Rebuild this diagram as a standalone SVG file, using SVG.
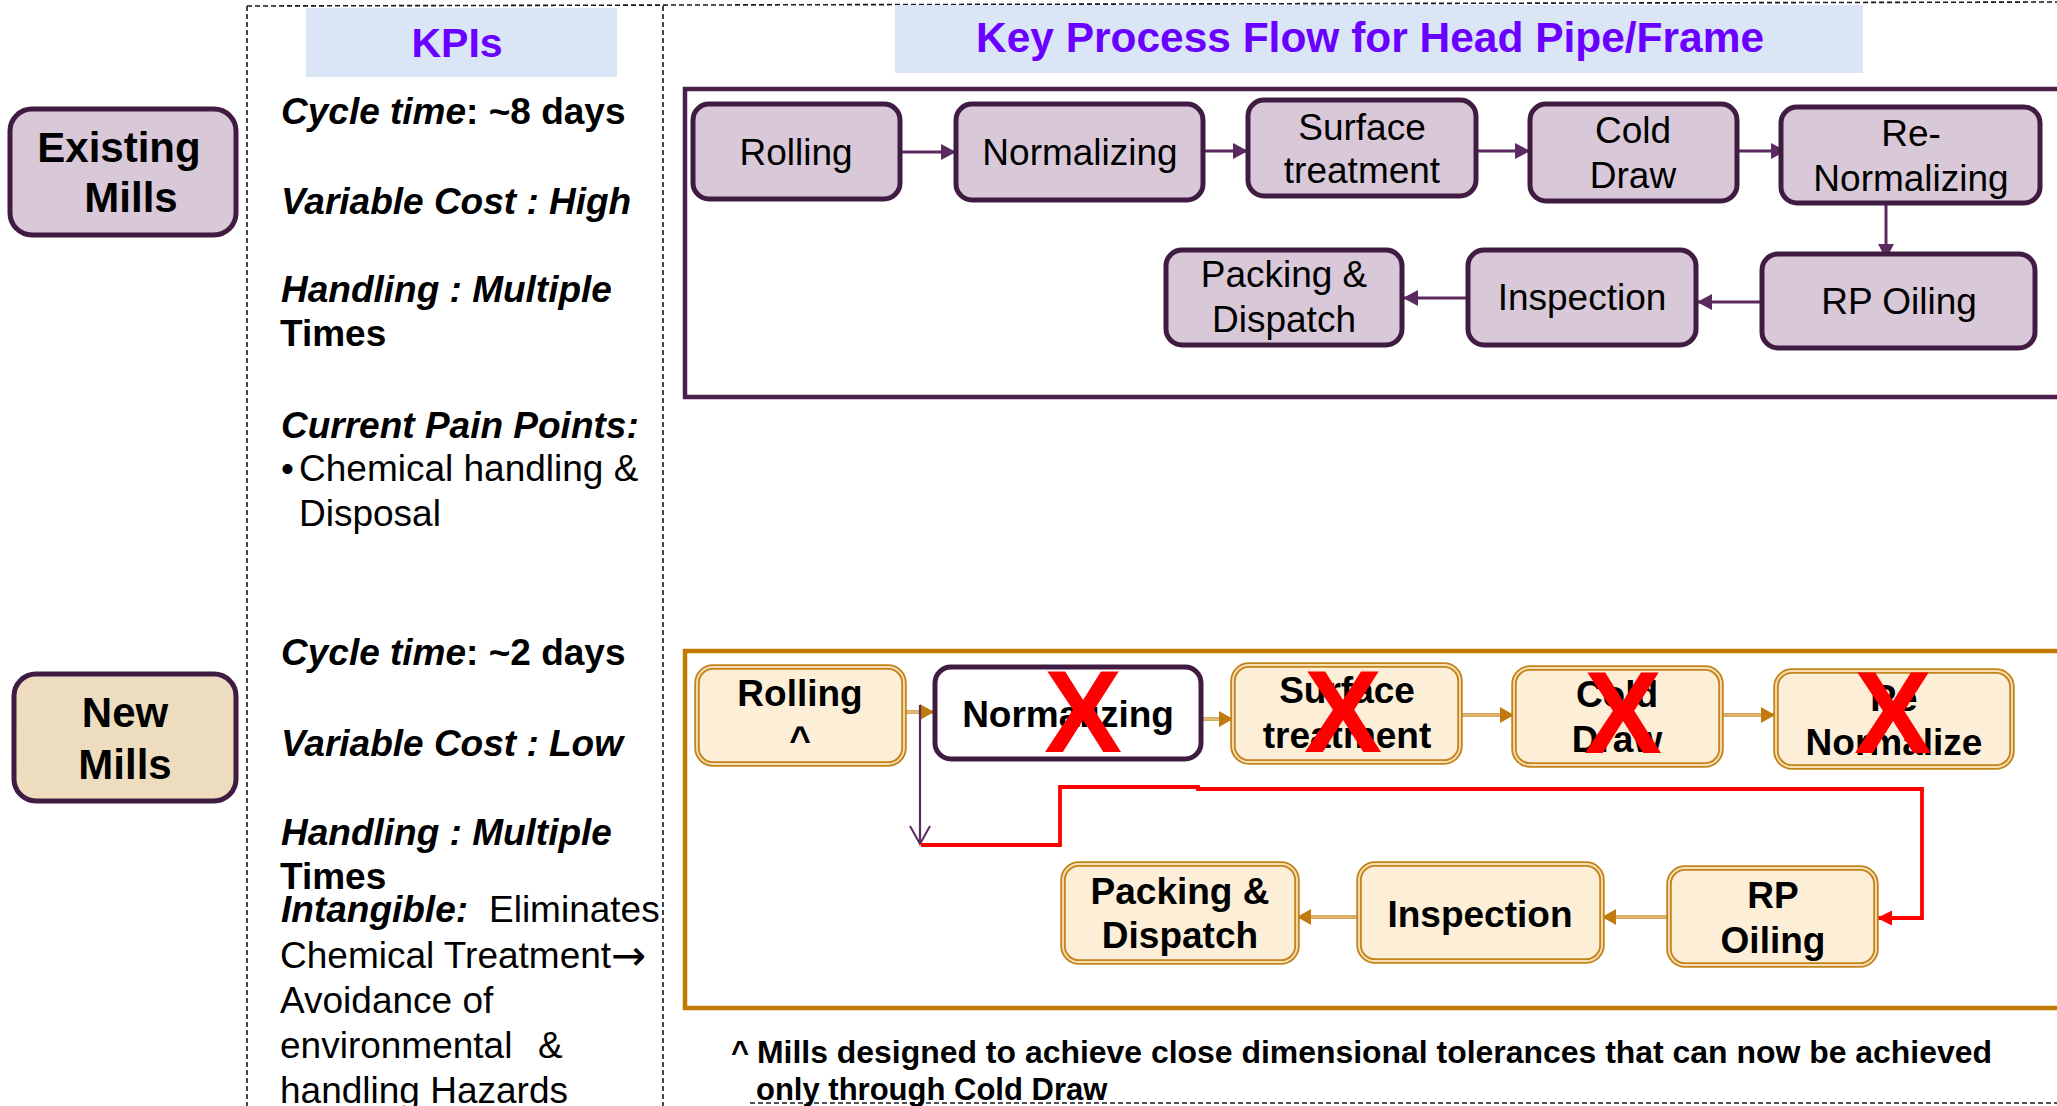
<svg xmlns="http://www.w3.org/2000/svg" width="2057" height="1106" viewBox="0 0 2057 1106">
  <defs>
    <style>
      text { font-family: "Liberation Sans", Arial, sans-serif; fill: #000; }
      .hdr { fill: #dae5f6; }
      .hdrtxt { font-weight: bold; fill: #6a00ff; text-anchor: middle; }
      .dash { stroke: #1a1a1a; stroke-width: 1.6; stroke-dasharray: 5 3; fill: none; }
      .kpi { font-size: 37px; }
      .bi { font-weight: bold; font-style: italic; }
      .b { font-weight: bold; }
      .arrowglyph { font-family: "DejaVu Sans", sans-serif; font-size: 42px; }
      .mill { font-size: 42px; font-weight: bold; text-anchor: middle; }
      .exbox { fill: #d8c8d8; stroke: #401c42; stroke-width: 5; }
      .nwbox { fill: #fdeed8; stroke: #c4841c; stroke-width: 5.5; }
      .nwgap { fill: none; stroke: #f8e0b6; stroke-width: 1.8; }
      .extxt { font-size: 37px; text-anchor: middle; }
      .nwtxt { font-size: 37px; font-weight: bold; text-anchor: middle; }
      .cross { font-size: 117px; font-weight: bold; fill: #ff0000; text-anchor: middle; }
      .pline { stroke: #5b2a5e; stroke-width: 3; fill: none; }
      .oline { stroke: #c98d2c; stroke-width: 3.5; fill: none; }
      .oline2 { stroke: #f3d9a8; stroke-width: 1.2; fill: none; }
      .rline { stroke: #ff0000; stroke-width: 3.8; fill: none; stroke-linejoin: miter; }
    </style>
    <marker id="headP" markerUnits="userSpaceOnUse" markerWidth="16" markerHeight="16" refX="15" refY="8" orient="auto">
      <path d="M0,0 L15,8 L0,16 z" fill="#5b2a5e"/>
    </marker>
    <marker id="headO" markerUnits="userSpaceOnUse" markerWidth="15" markerHeight="16" refX="14" refY="8" orient="auto">
      <path d="M0,0 L14,8 L0,16 z" fill="#c07a10"/>
    </marker>
    <marker id="headR" markerUnits="userSpaceOnUse" markerWidth="16" markerHeight="16" refX="15" refY="8" orient="auto">
      <path d="M0,0.5 L15,8 L0,15.5 z" fill="#ff0000"/>
    </marker>
    <marker id="openV" markerUnits="userSpaceOnUse" markerWidth="22" markerHeight="24" refX="19" refY="11" orient="auto">
      <path d="M1,1 L19,11 L1,21" fill="none" stroke="#5b2a5e" stroke-width="2"/>
    </marker>
  </defs>

  <rect width="2057" height="1106" fill="#ffffff"/>

  <!-- dashed frame around KPI column and flow area -->
  <g id="frame">
    <line class="dash" x1="247" y1="6" x2="2057" y2="2"/>
    <line class="dash" x1="247" y1="6" x2="247" y2="1106"/>
    <line class="dash" x1="663" y1="6" x2="663" y2="1106"/>
    <line class="dash" x1="750" y1="1103" x2="2057" y2="1103"/>
  </g>

  <!-- column headers -->
  <g id="hdr-kpi">
    <rect class="hdr" x="306" y="8" width="311" height="69"/>
    <text class="hdrtxt" x="457" y="57" font-size="41">KPIs</text>
  </g>
  <g id="hdr-flow">
    <rect class="hdr" x="895" y="5" width="968" height="68"/>
    <text class="hdrtxt" x="1370" y="52" font-size="42" textLength="788" lengthAdjust="spacingAndGlyphs">Key Process Flow for Head Pipe/Frame</text>
  </g>

  <!-- row labels -->
  <g id="existing-mills">
    <rect x="10" y="109" width="226" height="126" rx="22" fill="#d8c8d8" stroke="#401c42" stroke-width="5"/>
    <text class="mill" x="119" y="162">Existing</text>
    <text class="mill" x="131" y="212">Mills</text>
  </g>
  <g id="new-mills">
    <rect x="14" y="674" width="222" height="127" rx="22" fill="#eedcbe" stroke="#401c42" stroke-width="5"/>
    <text class="mill" x="125" y="727">New</text>
    <text class="mill" x="125" y="779">Mills</text>
  </g>

  <!-- KPI column: existing mills -->
  <g id="kpi-existing" class="kpi">
    <text x="281" y="124"><tspan class="bi">Cycle time</tspan><tspan class="b">: ~8 days</tspan></text>
    <text x="281" y="214" class="bi">Variable Cost : High</text>
    <text x="281" y="302" class="bi">Handling : Multiple</text>
    <text x="280" y="346" class="b">Times</text>
    <text x="281" y="438" class="bi">Current Pain Points:</text>
    <text x="281" y="481">•</text>
    <text x="299" y="481">Chemical handling &amp;</text>
    <text x="299" y="526">Disposal</text>
  </g>

  <!-- KPI column: new mills -->
  <g id="kpi-new" class="kpi">
    <text x="281" y="665"><tspan class="bi">Cycle time</tspan><tspan class="b">: ~2 days</tspan></text>
    <text x="281" y="756" class="bi">Variable Cost : Low</text>
    <text x="281" y="845" class="bi">Handling : Multiple</text>
    <text x="280" y="889" class="b">Times</text>
    <text x="281" y="922" class="bi">Intangible:</text>
    <text x="489" y="922">Eliminates</text>
    <text x="280" y="968">Chemical Treatment</text>
    <text x="611" y="970" class="arrowglyph">→</text>
    <text x="280" y="1013">Avoidance of</text>
    <text x="280" y="1058">environmental</text>
    <text x="538" y="1058">&amp;</text>
    <text x="280" y="1103">handling Hazards</text>
  </g>

  <!-- containers for the two process flows -->
  <rect id="flow-existing" x="685" y="89" width="1400" height="308" fill="none" stroke="#4a1f4c" stroke-width="4.5"/>
  <rect id="flow-new" x="685" y="651" width="1400" height="357" fill="none" stroke="#c07a00" stroke-width="4.5"/>

  <!-- connectors -->
  <g id="connectors">
    <line class="pline" x1="900" y1="152" x2="956" y2="152" marker-end="url(#headP)"/>
    <line class="pline" x1="1203" y1="151" x2="1248" y2="151" marker-end="url(#headP)"/>
    <line class="pline" x1="1476" y1="151" x2="1530" y2="151" marker-end="url(#headP)"/>
    <line class="pline" x1="1737" y1="151" x2="1786" y2="151" marker-end="url(#headP)"/>
    <line class="pline" x1="1886" y1="203" x2="1886" y2="259" marker-end="url(#headP)"/>
    <line class="pline" x1="1762" y1="302" x2="1697" y2="302" marker-end="url(#headP)"/>
    <line class="pline" x1="1468" y1="298" x2="1403" y2="298" marker-end="url(#headP)"/>

    <line class="oline" x1="904" y1="712" x2="934" y2="712" marker-end="url(#headO)"/>
    <line class="oline2" x1="904" y1="712" x2="920" y2="712"/>
    <line class="oline" x1="1201" y1="719" x2="1233" y2="719" marker-end="url(#headO)"/>
    <line class="oline2" x1="1201" y1="719" x2="1219" y2="719"/>
    <line class="oline" x1="1460" y1="715" x2="1514" y2="715" marker-end="url(#headO)"/>
    <line class="oline2" x1="1460" y1="715" x2="1500" y2="715"/>
    <line class="oline" x1="1721" y1="715" x2="1775" y2="715" marker-end="url(#headO)"/>
    <line class="oline2" x1="1721" y1="715" x2="1761" y2="715"/>
    <line class="oline" x1="1669" y1="917" x2="1602" y2="917" marker-end="url(#headO)"/>
    <line class="oline2" x1="1669" y1="917" x2="1616" y2="917"/>
    <line class="oline" x1="1359" y1="917" x2="1297" y2="917" marker-end="url(#headO)"/>
    <line class="oline2" x1="1359" y1="917" x2="1311" y2="917"/>

    <line x1="920" y1="705" x2="920" y2="844" stroke="#5b2a5e" stroke-width="2.2" marker-end="url(#openV)"/>
    <polyline class="rline" points="921,845 1060,845 1060,787 1198,787 1198,789 1922,789 1922,918 1877,918" marker-end="url(#headR)"/>
  </g>

  <!-- existing mills process steps -->
  <g id="ex-rolling">
    <rect class="exbox" x="693" y="104" width="207" height="95" rx="16"/>
    <text class="extxt" x="796" y="165">Rolling</text>
  </g>
  <g id="ex-normalizing">
    <rect class="exbox" x="956" y="104" width="247" height="96" rx="16"/>
    <text class="extxt" x="1080" y="165">Normalizing</text>
  </g>
  <g id="ex-surface">
    <rect class="exbox" x="1248" y="100" width="228" height="96" rx="16"/>
    <text class="extxt" x="1362" y="140">Surface</text>
    <text class="extxt" x="1362" y="183">treatment</text>
  </g>
  <g id="ex-colddraw">
    <rect class="exbox" x="1530" y="104" width="207" height="97" rx="16"/>
    <text class="extxt" x="1633" y="143">Cold</text>
    <text class="extxt" x="1633" y="188">Draw</text>
  </g>
  <g id="ex-renormalizing">
    <rect class="exbox" x="1781" y="107" width="259" height="96" rx="16"/>
    <text class="extxt" x="1911" y="146">Re-</text>
    <text class="extxt" x="1911" y="191">Normalizing</text>
  </g>
  <g id="ex-rpoiling">
    <rect class="exbox" x="1762" y="254" width="273" height="94" rx="16"/>
    <text class="extxt" x="1899" y="314">RP Oiling</text>
  </g>
  <g id="ex-inspection">
    <rect class="exbox" x="1468" y="250" width="228" height="95" rx="16"/>
    <text class="extxt" x="1582" y="310">Inspection</text>
  </g>
  <g id="ex-packing">
    <rect class="exbox" x="1166" y="250" width="236" height="95" rx="16"/>
    <text class="extxt" x="1284" y="287">Packing &amp;</text>
    <text class="extxt" x="1284" y="332">Dispatch</text>
  </g>

  <!-- new mills process steps -->
  <g id="nw-rolling">
    <rect class="nwbox" x="697" y="667" width="207" height="97" rx="16"/>
    <rect class="nwgap" x="697" y="667" width="207" height="97" rx="16"/>
    <text class="nwtxt" x="800" y="706">Rolling</text>
    <text class="nwtxt" x="800" y="752">^</text>
  </g>
  <g id="nw-normalizing">
    <rect x="935" y="667" width="266" height="92" rx="16" fill="#ffffff" stroke="#401c42" stroke-width="5"/>
    <text class="nwtxt" x="1068" y="727">Normalizing</text>
    <text class="cross" x="1083" y="752">X</text>
  </g>
  <g id="nw-surface">
    <rect class="nwbox" x="1233" y="665" width="227" height="97" rx="16"/>
    <rect class="nwgap" x="1233" y="665" width="227" height="97" rx="16"/>
    <text class="nwtxt" x="1347" y="703">Surface</text>
    <text class="nwtxt" x="1347" y="748">treatment</text>
    <text class="cross" x="1343" y="752">X</text>
  </g>
  <g id="nw-colddraw">
    <rect class="nwbox" x="1514" y="668" width="207" height="97" rx="16"/>
    <rect class="nwgap" x="1514" y="668" width="207" height="97" rx="16"/>
    <text class="nwtxt" x="1617" y="707">Cold</text>
    <text class="nwtxt" x="1617" y="752">Draw</text>
    <text class="cross" x="1623" y="753">X</text>
  </g>
  <g id="nw-renormalize">
    <rect class="nwbox" x="1776" y="671" width="236" height="96" rx="16"/>
    <rect class="nwgap" x="1776" y="671" width="236" height="96" rx="16"/>
    <text class="nwtxt" x="1894" y="711">Re</text>
    <text class="nwtxt" x="1894" y="755">Normalize</text>
    <text class="cross" x="1893" y="753">X</text>
  </g>
  <g id="nw-rpoiling">
    <rect class="nwbox" x="1669" y="868" width="207" height="97" rx="16"/>
    <rect class="nwgap" x="1669" y="868" width="207" height="97" rx="16"/>
    <text class="nwtxt" x="1773" y="908">RP</text>
    <text class="nwtxt" x="1773" y="953">Oiling</text>
  </g>
  <g id="nw-inspection">
    <rect class="nwbox" x="1359" y="864" width="243" height="97" rx="16"/>
    <rect class="nwgap" x="1359" y="864" width="243" height="97" rx="16"/>
    <text class="nwtxt" x="1480" y="927">Inspection</text>
  </g>
  <g id="nw-packing">
    <rect class="nwbox" x="1063" y="864" width="234" height="98" rx="16"/>
    <rect class="nwgap" x="1063" y="864" width="234" height="98" rx="16"/>
    <text class="nwtxt" x="1180" y="904">Packing &amp;</text>
    <text class="nwtxt" x="1180" y="948">Dispatch</text>
  </g>

  <!-- footnote -->
  <g id="footnote" font-size="31" font-weight="bold">
    <text x="731" y="1063">^</text>
    <text x="757" y="1063" textLength="1235" lengthAdjust="spacingAndGlyphs">Mills designed to achieve close dimensional tolerances that can now be achieved</text>
    <text x="756" y="1100">only through Cold Draw</text>
  </g>
</svg>
